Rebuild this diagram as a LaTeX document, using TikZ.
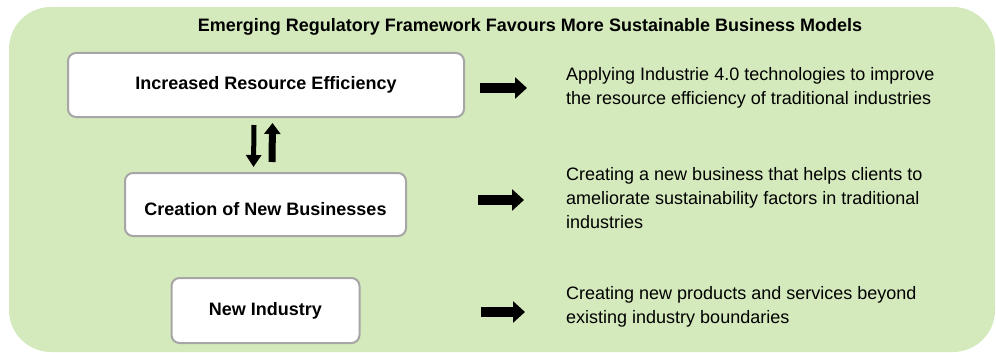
\documentclass[tikz,border=0pt]{standalone}
\usepackage{fontspec}
\setmainfont{Liberation Sans}
\usepackage{tikz}
\usetikzlibrary{positioning}
\usetikzlibrary{arrows.meta}
\definecolor{bggreen}{RGB}{212,234,188}
\definecolor{boxgray}{RGB}{166,166,166}
\tikzset{% boxes and arrows
        levelbox/.style={draw=boxgray, line width=2pt, fill=white, rounded corners=8pt,
                         font=\fontsize{18}{22}\selectfont\bfseries, inner sep=0pt},
        desc/.style={anchor=west, align=left, inner sep=0pt,
                     font=\fontsize{18}{24}\selectfont},
        fatarrow/.style={line width=10pt, -{Triangle[length=12pt,width=21pt]}},
        downarrow/.style={line width=5pt, -{Triangle[length=12pt,width=15pt]}},
        uparrow/.style={line width=7pt, -{Triangle[length=11pt,width=16pt]}}
        }

\begin{document}
\begin{tikzpicture}[x=1pt,y=-1pt]
 \useasboundingbox (0,0) rectangle (996,353);
 \fill[bggreen, rounded corners=42pt] (9,7) rectangle (995,352);
 \node [font=\fontsize{18}{22}\selectfont\bfseries] (title) at (530,27) {Emerging Regulatory Framework Favours More Sustainable Business Models};
 \node [levelbox, minimum width=396pt, minimum height=64pt] (res) at (266,85) {Increased Resource Efficiency};
 \node [levelbox, minimum width=281pt, minimum height=63pt, text height=21pt, text depth=0pt] (cre) at (265.5,204.5) {Creation of New Businesses};
 \node [levelbox, minimum width=188pt, minimum height=65pt] (ind) at (265.5,310.5) {New Industry};
 \node [desc] (d1) at (566,88) {Applying Industrie 4.0 technologies to improve\\the resource efficiency of traditional industries};
 \node [desc] (d2) at (566,198) {Creating a new business that helps clients to\\ameliorate sustainability factors in traditional\\industries};
 \node [desc] (d3) at (566,307) {Creating new products and services beyond\\existing industry boundaries};
 \coordinate (a1) at (480,88);
 \coordinate (b1) at (527,88);
 \coordinate (a2) at (478,200);
 \coordinate (b2) at (524,200);
 \coordinate (a3) at (481,312);
 \coordinate (b3) at (525,312);
\draw[fatarrow] (a1) -- (b1);
\draw[fatarrow] (a2) -- (b2);
\draw[fatarrow] (a3) -- (b3);
\draw[downarrow] ([xshift=-12pt,yshift=-7pt]res.south) -- ([xshift=-12pt,yshift=5pt]cre.north);
\draw[uparrow] ([xshift=6.5pt,yshift=10pt]cre.north) -- ([xshift=6.5pt,yshift=-5pt]res.south);
\end{tikzpicture}
\end{document}
